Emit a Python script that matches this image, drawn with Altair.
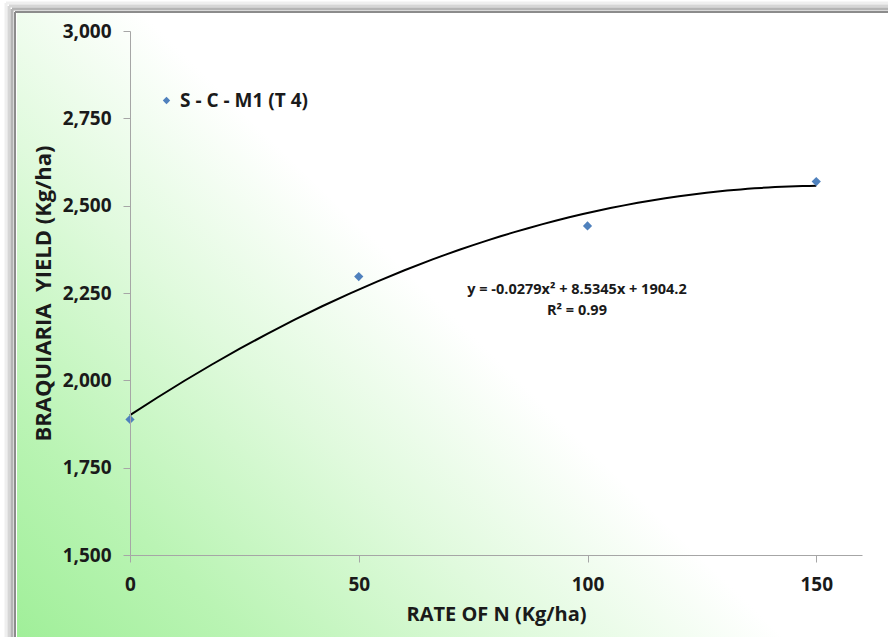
import altair as alt
import pandas as pd

# ---- data ----
rate_n = [0, 50, 100, 150]
yield_kg = [1888, 2297, 2442, 2569]
series_name = ["S - C - M1 (T 4)"] * 4

eq_lines = ["y = -0.0279x² + 8.5345x + 1904.2", "R² = 0.99"]
eq_x = [97.7, 97.7]
eq_y = [2258, 2199]

x_ticks = [0, 50, 100, 150]
y_ticks = [1500, 1750, 2000, 2250, 2500, 2750, 3000]

FONT = "Open Sans"

df = pd.DataFrame({"rate": rate_n, "yield": yield_kg, "series": series_name})
eq_df = pd.DataFrame({"x": eq_x, "y": eq_y, "t": eq_lines})
one = pd.DataFrame({"a": [0]})

W, H = 732, 524
PL, PT = 130, 31
TOTAL_W, TOTAL_H = 888, 637

# background gradient panel (page decoration)
bg = alt.Chart(one).mark_rect(
    color=alt.Gradient(
        gradient="linear",
        x1=0, y1=1, x2=0.95, y2=0.3,
        stops=[
            alt.GradientStop(color="#a0ef99", offset=0),
            alt.GradientStop(color="#baf4b4", offset=0.18),
            alt.GradientStop(color="#e0fadd", offset=0.4),
            alt.GradientStop(color="#ffffff", offset=0.6),
            alt.GradientStop(color="#ffffff", offset=1),
        ],
    )
).encode(
    x=alt.value(17 - PL), x2=alt.value(TOTAL_W - PL),
    y=alt.value(13 - PT), y2=alt.value(TOTAL_H - PT),
)

def edge(off, color, sw):
    top = alt.Chart(one).mark_rule(color=color, strokeWidth=sw).encode(
        x=alt.value(off - PL), x2=alt.value(TOTAL_W - PL), y=alt.value(off - 3 - PT))
    left = alt.Chart(one).mark_rule(color=color, strokeWidth=sw).encode(
        x=alt.value(off - PL), y=alt.value(off - 3 - PT), y2=alt.value(TOTAL_H - PT))
    return [top, left]

frames = (edge(6, "#efefef", 3) + edge(9, "#d6d6d6", 3)
          + edge(12, "#b4b4b4", 3) + edge(15, "#8c8c8c", 2))

xs = alt.Scale(domain=[0, 160], nice=False)
ys = alt.Scale(domain=[1500, 3000], nice=False)

base = alt.Chart(df)

x_enc = alt.X("rate:Q", scale=xs, axis=alt.Axis(
    values=x_ticks, title="RATE OF N (Kg/ha)", grid=False, zindex=1, labelFlush=False,
    domainColor="#a6a6a6", tickColor="#a6a6a6", tickSize=7,
    labelFont=FONT, labelFontSize=19, labelFontWeight="bold", labelColor="#1a1a1a",
    labelPadding=13, titleFont=FONT, titleFontSize=20, titleFontWeight="bold",
    titleColor="#1a1a1a", titlePadding=10))
y_enc = alt.Y("yield:Q", scale=ys, axis=alt.Axis(
    values=y_ticks, format=",.0f", title="BRAQUIARIA\u00a0\u00a0YIELD (Kg/ha)",
    grid=False, zindex=1, labelFlush=False,
    domainColor="#a6a6a6", tickColor="#a6a6a6", tickSize=7,
    labelFont=FONT, labelFontSize=19, labelFontWeight="bold", labelColor="#1a1a1a",
    labelPadding=12, titleFont=FONT, titleFontSize=22, titleFontWeight="bold",
    titleColor="#1a1a1a", titlePadding=7))

trend = base.transform_regression(
    "rate", "yield", method="poly", order=2, extent=[0, 150]
).mark_line(color="black", strokeWidth=2).encode(x=x_enc, y=y_enc)

points = base.mark_point(shape="diamond", filled=True, size=85, opacity=1).encode(
    x=x_enc, y=y_enc,
    color=alt.Color("series:N", scale=alt.Scale(range=["#4f81bd"]), legend=alt.Legend(
        title=None, orient="none", legendX=27, legendY=60,
        symbolType="diamond", symbolSize=55, symbolStrokeWidth=0,
        labelFont=FONT, labelFontSize=19, labelFontWeight="bold",
        labelColor="#1a1a1a", labelOffset=4)),
)

eq = alt.Chart(eq_df).mark_text(
    font=FONT, fontSize=14.5, fontWeight="bold", color="#1a1a1a", align="center"
).encode(x=alt.X("x:Q", scale=xs), y=alt.Y("y:Q", scale=ys), text="t:N")

chart = alt.layer(bg, *frames, trend, points, eq).properties(
    width=W, height=H,
    autosize=alt.AutoSizeParams(type="none"),
    padding={"left": PL, "top": PT, "right": TOTAL_W - PL - W, "bottom": TOTAL_H - PT - H},
    background="white",
).configure_view(stroke=None)

chart.save("out.html", embed_options={"renderer": "svg", "actions": False})
